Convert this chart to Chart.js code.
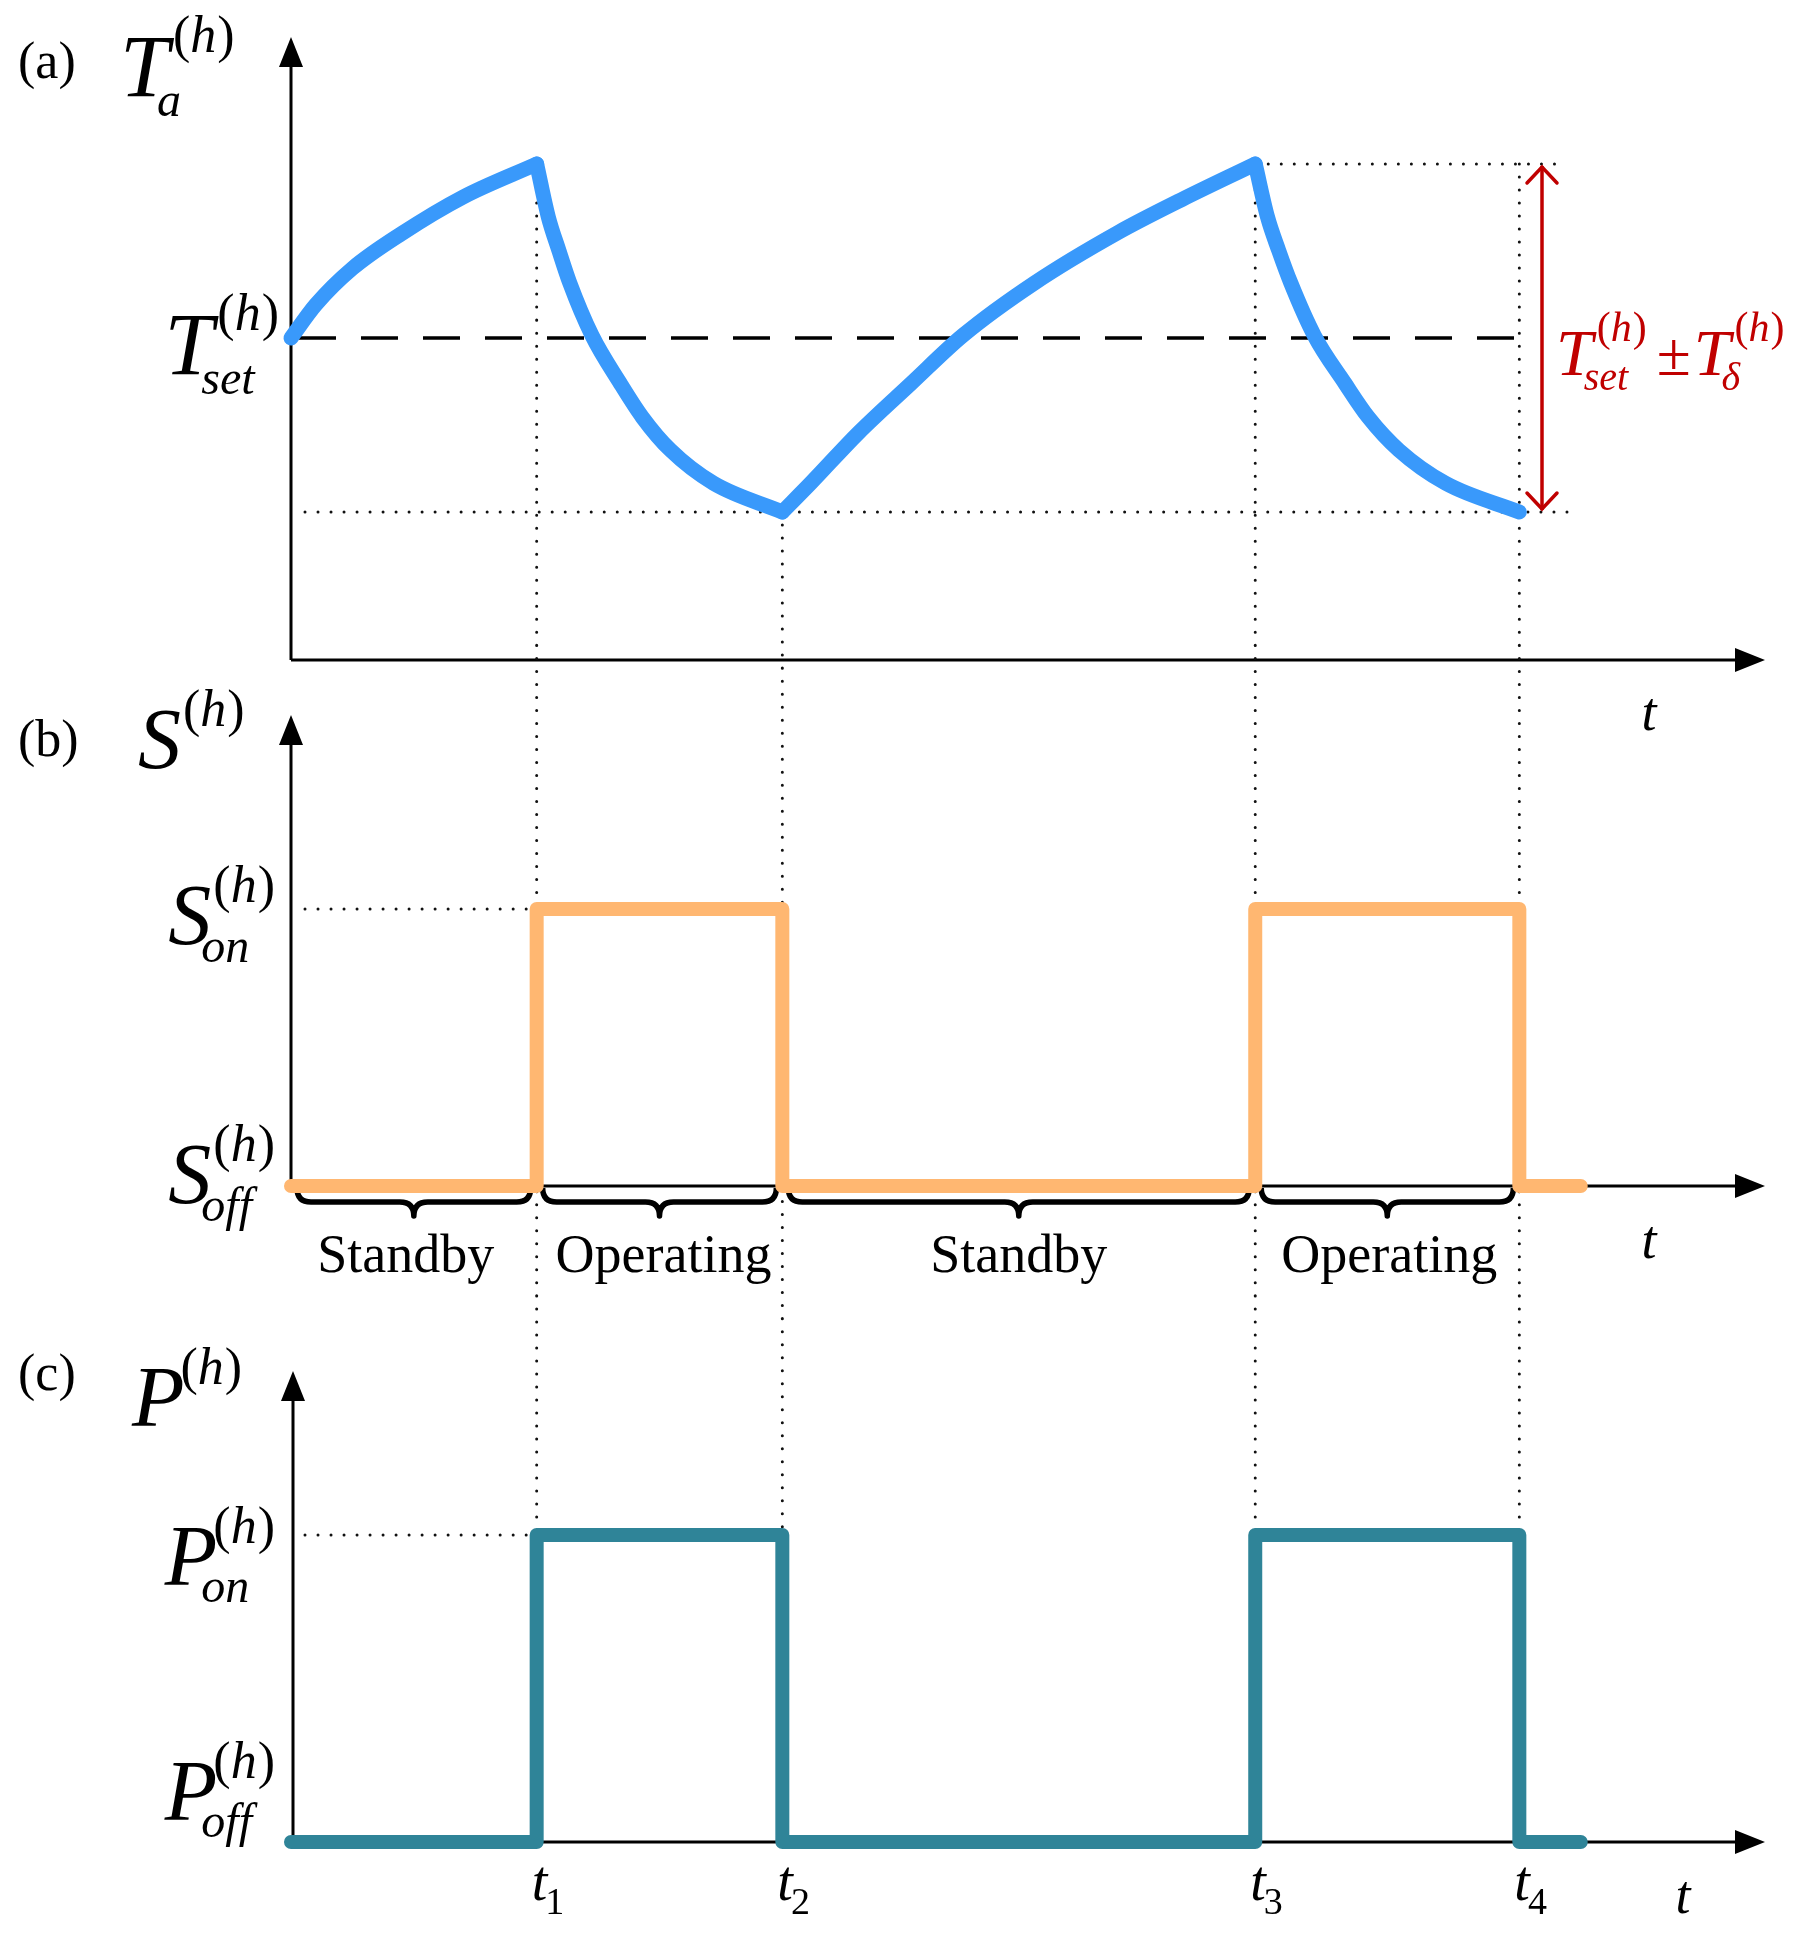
<!DOCTYPE html>
<html>
<head>
<meta charset="utf-8">
<script src="https://cdn.jsdelivr.net/npm/chart.js@4.4.1/dist/chart.umd.min.js"></script>
<style>
  html, body { margin: 0; padding: 0; background: #fff; }
  #wrap { position: relative; width: 1799px; height: 1934px; }
</style>
</head>
<body>
<div id="wrap"><canvas id="chart" width="1799" height="1934"></canvas></div>
<script>
// switching instants t1..t4 and the end of the drawn window (arbitrary time units)
const switchTimes = [2.0, 4.0, 7.85, 10.0];
const tEnd = 10.5;
const tMax = 12;

// indoor temperature, panel (a): one array per heating / cooling branch
const tempRise1 = [[0, 20.0], [0.2, 20.38], [0.5, 20.8], [0.9, 21.2], [1.4, 21.62], [2.0, 22.0]];
const tempFall1 = [[2.0, 22.0], [2.095, 21.39], [2.18, 21.01], [2.27, 20.63], [2.45, 20.03], [2.68, 19.48],
                   [2.86, 19.09], [3.09, 18.71], [3.44, 18.33], [4.0, 18.0]];
const tempRise2 = [[4.0, 18.0], [4.23, 18.33], [4.62, 18.91], [5.05, 19.48], [5.47, 20.03], [6.05, 20.63],
                   [6.73, 21.21], [7.25, 21.59], [7.85, 22.0]];
const tempFall2 = [[7.85, 22.0], [7.95, 21.39], [8.04, 21.01], [8.14, 20.63], [8.33, 20.03], [8.58, 19.48],
                   [8.77, 19.09], [9.02, 18.71], [9.4, 18.33], [10.0, 18.0]];
const tSet = 20;
const tDelta = 2;

// state (b) and power (c): 0 = off, 1 = on
const stepTimes = [0, ...switchTimes, tEnd];
const stateValues = [0, 1, 0, 1, 0, 0];
const powerValues = [0, 1, 0, 1, 0, 0];

const phaseLabels = ['Standby', 'Operating', 'Standby', 'Operating'];
const timeSubs = ['1', '2', '3', '4'];

// ---- layout (pixels) ----
const W = 1799, H = 1934;
const AX = 291, XTIP = 1765;
const panelA = { base: 660, top: 37 };
const panelB = { top: 715 };
const panelC = { top: 1371 };
const SERIF = '"Liberation Serif", "Times New Roman", serif';
const BLUE = '#3999fb', ORANGE = '#ffb771', TEAL = '#2f8498', RED = '#c00000';

// linear range so that value v1 lands on pixel p1 and v2 on p2 (chart area = full height)
function fitRange(v1, p1, v2, p2) {
  const ppu = (p2 - p1) / (v1 - v2);
  const max = v1 + p1 / ppu;
  return { min: max - H / ppu, max: max };
}
const rangeA = fitRange(tSet + tDelta, 164, tSet - tDelta, 512);
const rangeB = fitRange(1, 909, 0, 1186);
const rangeC = fitRange(1, 1535, 0, 1842);

function pts(arr) { return arr.map(([x, y]) => ({ x, y })); }

const lineBase = { pointRadius: 0, fill: false, clip: false, borderCapStyle: 'round', borderJoinStyle: 'round' };

const datasets = [tempRise1, tempFall1, tempRise2, tempFall2].map(seg => ({
  ...lineBase, data: pts(seg), yAxisID: 'ya', borderColor: BLUE, borderWidth: 15,
  cubicInterpolationMode: 'monotone'
}));
datasets.push({
  ...lineBase, data: stepTimes.map((x, i) => ({ x, y: stateValues[i] })), yAxisID: 'yb',
  stepped: 'before', borderColor: ORANGE, borderWidth: 14
});
datasets.push({
  ...lineBase, data: stepTimes.map((x, i) => ({ x, y: powerValues[i] })), yAxisID: 'yc',
  stepped: 'before', borderColor: TEAL, borderWidth: 14
});

// ---- drawing helpers ----
function line(ctx, x1, y1, x2, y2, w, color, dash) {
  ctx.save();
  ctx.beginPath();
  ctx.lineWidth = w; ctx.strokeStyle = color;
  if (dash) ctx.setLineDash(dash);
  ctx.moveTo(x1, y1); ctx.lineTo(x2, y2); ctx.stroke();
  ctx.restore();
}
function dotted(ctx, x1, y1, x2, y2) {
  ctx.save();
  ctx.beginPath();
  ctx.lineWidth = 3; ctx.strokeStyle = '#111'; ctx.lineCap = 'round';
  ctx.setLineDash([0.01, 13]);
  ctx.moveTo(x1, y1); ctx.lineTo(x2, y2); ctx.stroke();
  ctx.restore();
}
function axes(ctx, x0, base, top) {
  line(ctx, x0, base, x0, top + 20, 3, '#000');
  line(ctx, x0, base, XTIP - 20, base, 3, '#000');
  ctx.fillStyle = '#000';
  ctx.beginPath(); ctx.moveTo(x0, top); ctx.lineTo(x0 - 12, top + 30); ctx.lineTo(x0 + 12, top + 30); ctx.closePath(); ctx.fill();
  ctx.beginPath(); ctx.moveTo(XTIP, base); ctx.lineTo(XTIP - 30, base - 12); ctx.lineTo(XTIP - 30, base + 12); ctx.closePath(); ctx.fill();
}
function brace(ctx, x0, x1, y0, h) {
  const xm = (x0 + x1) / 2, hh = h / 2, q = 14;
  ctx.save();
  ctx.beginPath();
  ctx.lineWidth = 5.5; ctx.strokeStyle = '#000'; ctx.lineJoin = 'round';
  ctx.moveTo(x0, y0);
  ctx.quadraticCurveTo(x0, y0 + hh, x0 + q, y0 + hh);
  ctx.lineTo(xm - q, y0 + hh);
  ctx.quadraticCurveTo(xm, y0 + hh, xm, y0 + h);
  ctx.quadraticCurveTo(xm, y0 + hh, xm + q, y0 + hh);
  ctx.lineTo(x1 - q, y0 + hh);
  ctx.quadraticCurveTo(x1, y0 + hh, x1, y0);
  ctx.stroke();
  ctx.restore();
}
// "(h)" with upright parentheses and italic h
function drawParenH(ctx, x, y, s, draw) {
  let cx = x;
  const parts = [['(', false], ['h', true], [')', false]];
  for (const [t, it] of parts) {
    ctx.font = (it ? 'italic ' : '') + s + 'px ' + SERIF;
    if (draw) ctx.fillText(t, cx, y);
    cx += ctx.measureText(t).width + (it ? 1 : 0);
  }
  return cx - x;
}
// symbol like T_set^(h); returns right end x
function sym(ctx, x, y, base, sub, o) {
  const M = o.size, s = o.small;
  ctx.textAlign = 'left'; ctx.textBaseline = 'alphabetic';
  ctx.font = 'italic ' + M + 'px ' + SERIF;
  const wb = ctx.measureText(base).width;
  const wsup = drawParenH(ctx, 0, 0, s, false);
  ctx.font = 'italic ' + o.subSize + 'px ' + SERIF;
  const wsub = sub ? ctx.measureText(sub).width : 0;
  const total = wb + Math.max(o.supDx + wsup, sub ? o.subDx + wsub : 0);
  if (o.align === 'right') x -= total;
  ctx.fillStyle = o.color || '#000';
  ctx.font = 'italic ' + M + 'px ' + SERIF;
  ctx.fillText(base, x, y);
  drawParenH(ctx, x + wb + o.supDx, y + o.supDy, s, true);
  if (sub) {
    ctx.font = 'italic ' + o.subSize + 'px ' + SERIF;
    ctx.fillText(sub, x + wb + o.subDx, y + o.subDy);
  }
  return x + total;
}
function text(ctx, str, x, y, size, opts) {
  opts = opts || {};
  ctx.font = (opts.italic ? 'italic ' : '') + size + 'px ' + SERIF;
  ctx.fillStyle = opts.color || '#000';
  ctx.textAlign = opts.align || 'left';
  ctx.textBaseline = 'alphabetic';
  ctx.fillText(str, x, y);
  ctx.textAlign = 'left';
}

const symT = { size: 88, small: 52, subSize: 48, supDx: 4, supDy: -44, subDx: -12, subDy: 20 };
const symS = { size: 86, small: 52, subSize: 48, supDx: 2, supDy: -42, subDx: -10, subDy: 18 };
const symP = { size: 86, small: 52, subSize: 48, supDx: -4, supDy: -42, subDx: -16, subDy: 17 };

const sketch = {
  id: 'sketch',
  beforeDatasetsDraw(chart) {
    const { ctx } = chart;
    const { x, ya, yb, yc } = chart.scales;
    const px = t => x.getPixelForValue(t);
    const peak = ya.getPixelForValue(tSet + tDelta);
    const trough = ya.getPixelForValue(tSet - tDelta);
    const setY = ya.getPixelForValue(tSet);
    const bBase = yb.getPixelForValue(0), bOn = yb.getPixelForValue(1);
    const cBase = yc.getPixelForValue(0), cOn = yc.getPixelForValue(1);

    axes(ctx, AX, panelA.base, panelA.top);
    axes(ctx, AX, bBase, panelB.top);
    axes(ctx, AX + 2, cBase, panelC.top);

    // set-point
    line(ctx, AX + 8, setY, 1514, setY, 3.5, '#000', [37, 25]);

    // guides
    dotted(ctx, px(switchTimes[0]), peak, px(switchTimes[0]), cBase);
    dotted(ctx, px(switchTimes[1]), trough, px(switchTimes[1]), cBase);
    dotted(ctx, px(switchTimes[2]), peak, px(switchTimes[2]), cBase);
    dotted(ctx, px(switchTimes[3]), peak, px(switchTimes[3]), cBase);
    dotted(ctx, px(switchTimes[2]), peak, 1563, peak);
    dotted(ctx, AX + 14, trough, 1572, trough);
    dotted(ctx, AX + 14, bOn, px(switchTimes[0]), bOn);
    dotted(ctx, AX + 14, cOn, px(switchTimes[0]), cOn);

    // phase braces under the state axis
    const edges = [0, ...switchTimes];
    for (let i = 0; i < phaseLabels.length; i++) {
      brace(ctx, px(edges[i]) + 6, px(edges[i + 1]) - 6, bBase + 2, 28);
    }
  },
  afterDatasetsDraw(chart) {
    const { ctx } = chart;
    const { x, ya, yb, yc } = chart.scales;
    const px = t => x.getPixelForValue(t);
    const peak = ya.getPixelForValue(tSet + tDelta);
    const trough = ya.getPixelForValue(tSet - tDelta);
    const setY = ya.getPixelForValue(tSet);
    const bBase = yb.getPixelForValue(0), bOn = yb.getPixelForValue(1);
    const cBase = yc.getPixelForValue(0), cOn = yc.getPixelForValue(1);

    // band arrow T_set ± T_delta
    const ax = 1542;
    line(ctx, ax, peak + 2, ax, trough - 2, 3.5, RED);
    ctx.save();
    ctx.strokeStyle = RED; ctx.lineWidth = 3.5; ctx.lineCap = 'round';
    ctx.beginPath();
    ctx.moveTo(ax - 15, peak + 19); ctx.lineTo(ax, peak + 3); ctx.lineTo(ax + 15, peak + 19);
    ctx.moveTo(ax - 15, trough - 19); ctx.lineTo(ax, trough - 3); ctx.lineTo(ax + 15, trough - 19);
    ctx.stroke();
    ctx.restore();
    const redSym = { size: 66, small: 42, subSize: 40, supDx: 4, supDy: -34, subDx: -9, subDy: 15, color: RED };
    let ex = sym(ctx, 1556, 375, 'T', 'set', redSym);
    text(ctx, '\u00b1', ex + 10, 375, 62, { color: RED });
    ctx.font = '62px ' + SERIF;
    ex = ex + 10 + ctx.measureText('\u00b1').width + 3;
    sym(ctx, ex, 375, 'T', '\u03b4', redSym);

    // panel tags
    text(ctx, '(a)', 18, 78, 52);
    text(ctx, '(b)', 18, 756, 52);
    text(ctx, '(c)', 18, 1390, 52);

    // axis titles
    sym(ctx, 120, 96, 'T', 'a', symT);
    sym(ctx, 138, 768, 'S', null, symS);
    sym(ctx, 132, 1426, 'P', null, symP);

    // level labels
    sym(ctx, 279, setY + 36, 'T', 'set', { ...symT, align: 'right' });
    sym(ctx, 275, bOn + 35, 'S', 'on', { ...symS, align: 'right' });
    sym(ctx, 275, bBase + 17, 'S', 'off', { ...symS, align: 'right' });
    sym(ctx, 275, cOn + 50, 'P', 'on', { ...symP, align: 'right' });
    sym(ctx, 275, cBase - 22, 'P', 'off', { ...symP, align: 'right' });

    // time-axis labels
    text(ctx, 't', 1649, 730, 54, { italic: true, align: 'center' });
    text(ctx, 't', 1649, 1258, 54, { italic: true, align: 'center' });
    text(ctx, 't', 1683, 1913, 54, { italic: true, align: 'center' });

    // phase names
    const edges = [0, ...switchTimes];
    const nudge = [-8, 4, 0, 2];
    for (let i = 0; i < phaseLabels.length; i++) {
      const cx = (px(edges[i]) + px(edges[i + 1])) / 2 + nudge[i];
      text(ctx, phaseLabels[i], cx, 1272, 54, { align: 'center' });
    }

    // switching instants
    switchTimes.forEach((t, i) => {
      const xx = px(t) - 5;
      ctx.font = 'italic 56px ' + SERIF;
      const wt = ctx.measureText('t').width;
      text(ctx, 't', xx, 1900, 56, { italic: true });
      text(ctx, timeSubs[i], xx + wt - 2, 1914, 38);
    });
  }
};

new Chart(document.getElementById('chart'), {
  type: 'line',
  data: { datasets: datasets },
  options: {
    responsive: false,
    animation: false,
    layout: { padding: { left: AX, right: W - XTIP, top: 0, bottom: 0 } },
    plugins: { legend: { display: false }, tooltip: { enabled: false } },
    scales: {
      x: { type: 'linear', min: 0, max: tMax, display: false },
      ya: { type: 'linear', position: 'left', min: rangeA.min, max: rangeA.max, display: false },
      yb: { type: 'linear', position: 'left', min: rangeB.min, max: rangeB.max, display: false },
      yc: { type: 'linear', position: 'left', min: rangeC.min, max: rangeC.max, display: false }
    }
  },
  plugins: [sketch]
});
</script>
</body>
</html>
